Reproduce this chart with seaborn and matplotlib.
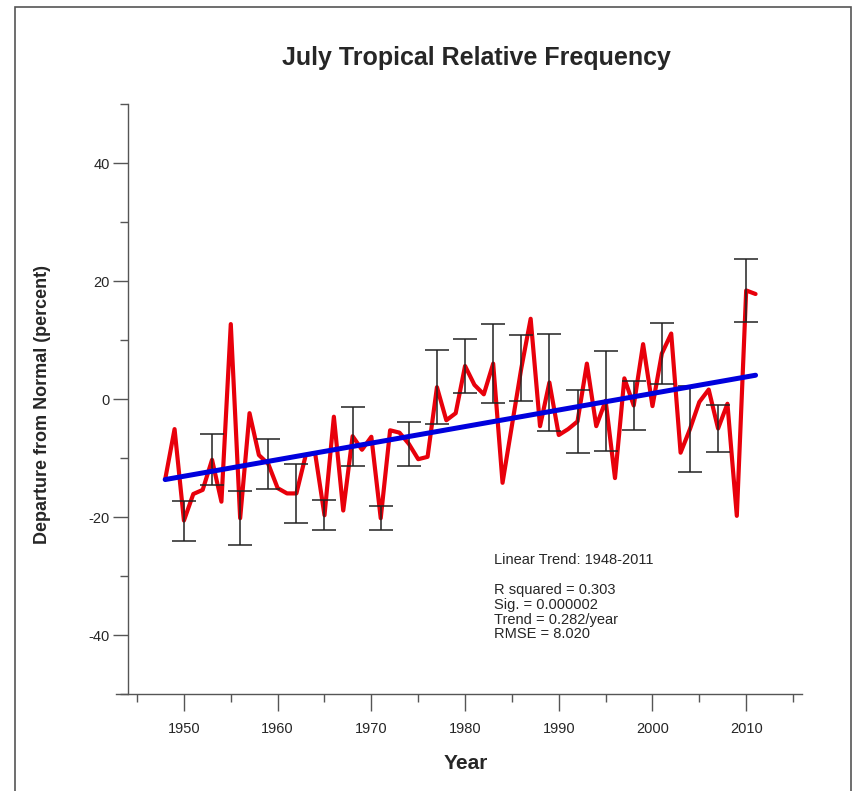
import numpy as np
import pandas as pd
import seaborn as sns
import matplotlib.pyplot as plt
from matplotlib.patches import Rectangle
from matplotlib.ticker import MultipleLocator

# July tropical relative frequency, departure from normal (percent)
years = list(range(1948, 2012))
departure = [
    -13.6, -5.1, -20.6, -16.1, -15.4, -10.3, -17.4, 12.7, -20.2, -2.4,
    -9.5, -11.0, -15.1, -16.0, -16.0, -9.5, -9.2, -19.7, -3.0, -18.9,
    -6.3, -8.6, -6.4, -20.2, -5.3, -5.7, -7.6, -10.2, -9.8, 2.0,
    -3.6, -2.4, 5.6, 2.4, 0.8, 6.0, -14.2, -4.5, 5.2, 13.6,
    -4.6, 2.8, -6.1, -5.1, -3.8, 6.0, -4.6, -0.3, -13.4, 3.5,
    -1.1, 9.3, -1.2, 7.7, 11.1, -9.1, -5.1, -0.5, 1.6, -5.0,
    -0.8, -19.8, 18.4, 17.8,
]

# error bars every third year (half widths)
err_years = list(range(1950, 2011, 3))
err_half = [3.4, 4.35, 4.55, 4.25, 5.05, 2.55, 5.0, 2.0, 3.7, 6.25, 4.6,
            6.7, 5.6, 8.2, 5.3, 8.5, 4.2, 5.2, 7.3, 4.0, 5.35]

stats_text = ("Linear Trend: 1948-2011\n\n"
              "R squared = 0.303\n"
              "Sig. = 0.000002\n"
              "Trend = 0.282/year\n"
              "RMSE = 8.020")

df = pd.DataFrame({"year": years, "departure": departure})
err_centers = df.set_index("year").loc[err_years, "departure"].values

sns.set_style("white")
plt.rcParams["font.family"] = ["Liberation Sans", "DejaVu Sans"]
plt.rcParams["axes.unicode_minus"] = False

fig = plt.figure(figsize=(8.57, 7.91), dpi=100)
ax = fig.add_axes([0.1359, 0.1226, 0.8004, 0.7459])

sns.lineplot(data=df, x="year", y="departure", color="#e8000b", lw=3.0, ax=ax, zorder=2)
ax.errorbar(err_years, err_centers, yerr=err_half, fmt="none", ecolor="#222222",
            elinewidth=1.1, capsize=8.5, capthick=1.1, zorder=3)
sns.regplot(data=df, x="year", y="departure", scatter=False, ci=None, color="#0000dd",
            line_kws={"lw": 3.6, "zorder": 4}, ax=ax)

ax.set_xlim(1942.8, 2016.0)
ax.set_ylim(-50, 50)

for s in ["top", "right"]:
    ax.spines[s].set_visible(False)
ax.spines["left"].set_position(("data", 1944.0))
ax.spines["left"].set_bounds(-50, 50)
for s in ["left", "bottom"]:
    ax.spines[s].set_color("#555555")
    ax.spines[s].set_linewidth(1.0)

ax.set_xticks(range(1950, 2011, 10))
ax.set_xticks(range(1945, 2016, 5), minor=True)
ax.set_yticks([-40, -20, 0, 20, 40])
ax.set_yticks([-50, -30, -10, 10, 30, 50], minor=True)

ax.tick_params(axis="x", which="major", direction="out", length=12, width=1.0,
               color="#555555", labelsize=10.5, pad=8, bottom=True)
ax.tick_params(axis="x", which="minor", direction="out", length=6, width=1.0,
               color="#555555", bottom=True)
ax.tick_params(axis="y", which="major", direction="out", length=11, width=1.0,
               color="#555555", labelsize=10.5, pad=2, left=True)
ax.tick_params(axis="y", which="minor", direction="out", length=5.5, width=1.0,
               color="#555555", left=True)

ax.set_xlabel("Year", fontsize=15, fontweight="bold")
ax.set_ylabel("Departure from Normal (percent)", fontsize=13, fontweight="bold")
ax.xaxis.set_label_coords(0.5095, -0.102)
ax.yaxis.set_label_coords(-0.096, 0.49)

ax.text(1983.1, -26.1, stats_text, fontsize=10.5, va="top", ha="left", linespacing=1.08)

fig.text(476 / 857, 1 - 58 / 791, "July Tropical Relative Frequency", fontsize=18,
         fontweight="bold", ha="center", va="center")

fig.patches.append(Rectangle((15 / 857, -0.02), (851 - 15) / 857, 1.02 - 7 / 791,
                             transform=fig.transFigure, fill=False,
                             edgecolor="#555555", lw=1.2))

fig.savefig("out.png", dpi=100)
